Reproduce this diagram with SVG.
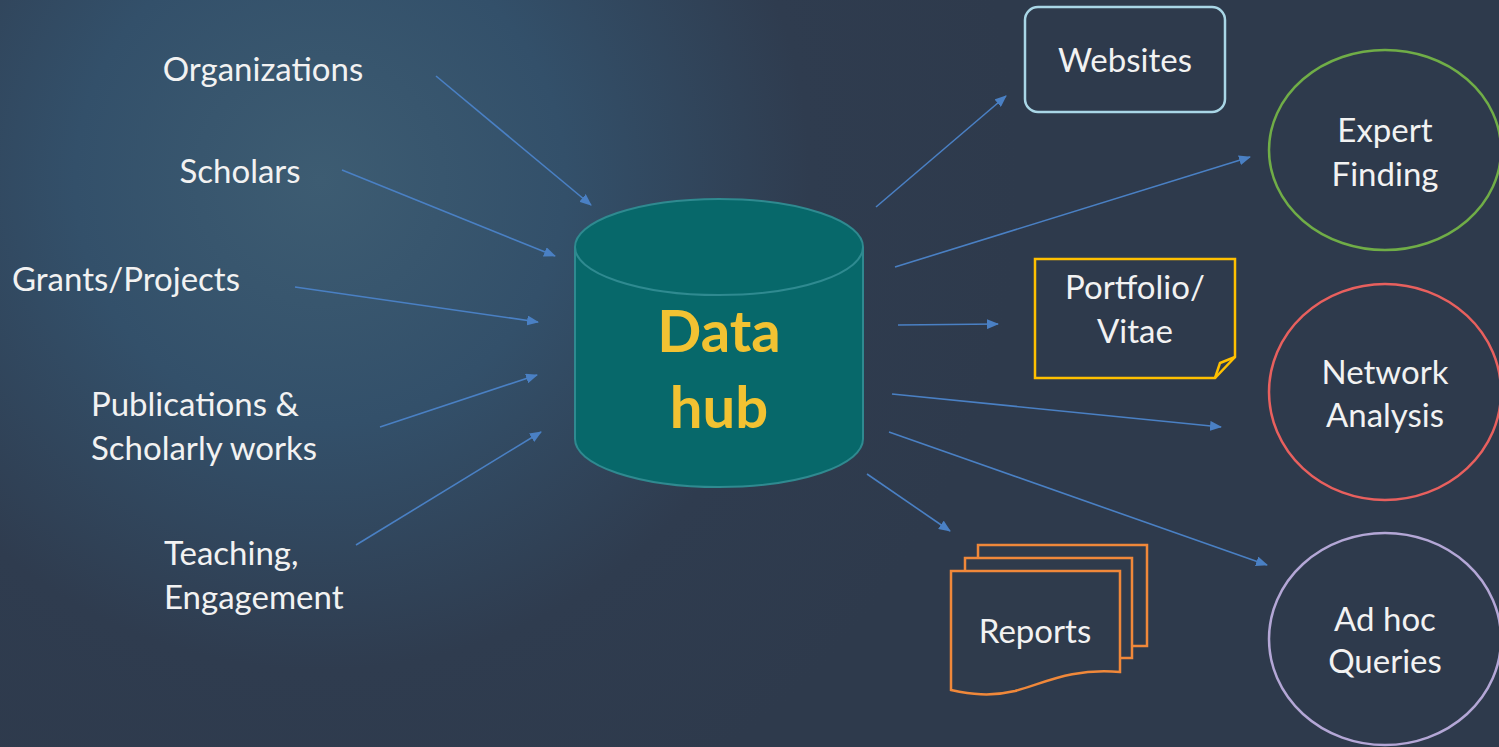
<svg xmlns="http://www.w3.org/2000/svg" width="1499" height="747" viewBox="0 0 1499 747">
<defs>
<radialGradient id="bg" cx="320" cy="180" r="700" gradientUnits="userSpaceOnUse">
<stop offset="0" stop-color="#3d5c72"/>
<stop offset="0.35" stop-color="#33506a"/>
<stop offset="0.7" stop-color="#2f3c4f"/>
<stop offset="1" stop-color="#2e3a4c"/>
</radialGradient>
<marker id="ah" viewBox="0 0 12 10" refX="11" refY="5" markerWidth="12" markerHeight="10" markerUnits="userSpaceOnUse" orient="auto">
<path d="M0,0 L12,5 L0,10 Z" fill="#4a80c4"/>
</marker>
<style>
.lbl{font-family:Lato,"Open Sans",sans-serif;font-size:33px;fill:#f2f2f2}
.c{text-anchor:middle}
.arr{stroke:#4a80c4;stroke-width:1.6;fill:none;marker-end:url(#ah)}
.hub{font-family:Lato,"Open Sans",sans-serif;font-weight:bold;font-size:58px;fill:#f2c232;text-anchor:middle}
</style>
</defs>
<rect width="1499" height="747" fill="url(#bg)"/>

<g id="connectors">
<line class="arr" x1="436" y1="76" x2="591" y2="205"/>
<line class="arr" x1="342" y1="170" x2="555" y2="256"/>
<line class="arr" x1="295" y1="287" x2="538" y2="322"/>
<line class="arr" x1="380" y1="427" x2="537" y2="375"/>
<line class="arr" x1="356" y1="545" x2="541" y2="432"/>
<line class="arr" x1="876" y1="207" x2="1006" y2="96"/>
<line class="arr" x1="895" y1="267" x2="1250" y2="157"/>
<line class="arr" x1="898" y1="325" x2="998" y2="324"/>
<line class="arr" x1="892" y1="394" x2="1221" y2="427"/>
<line class="arr" x1="889" y1="432" x2="1267" y2="565"/>
<line class="arr" x1="867" y1="474" x2="950" y2="531"/>
</g>

<g id="organizations"><text class="lbl c" x="263" y="81">Organizations</text></g>
<g id="scholars"><text class="lbl c" x="240" y="183">Scholars</text></g>
<g id="grants"><text class="lbl" x="12" y="291">Grants/Projects</text></g>
<g id="publications"><text class="lbl" x="91" y="416">Publications &amp;</text><text class="lbl" x="91" y="460">Scholarly works</text></g>
<g id="teaching"><text class="lbl" x="164" y="565">Teaching,</text><text class="lbl" x="164" y="609">Engagement</text></g>

<g id="datahub">
<path d="M575,247 L575,439 A144,48 0 0 0 863,439 L863,247" fill="#07686a" stroke="#2f8a90" stroke-width="2"/>
<ellipse cx="719" cy="247" rx="144" ry="48" fill="#07686a" stroke="#2f8a90" stroke-width="2"/>
<text class="hub" x="719" y="352">Data</text>
<text class="hub" x="719" y="428">hub</text>
</g>

<g id="websites">
<rect x="1025" y="7" width="200" height="105" rx="13" fill="none" stroke="#a9d6e6" stroke-width="2.5"/>
<text class="lbl c" x="1125" y="72">Websites</text>
</g>

<g id="expert">
<ellipse cx="1385" cy="150" rx="116" ry="100" fill="none" stroke="#70ad47" stroke-width="2.5"/>
<text class="lbl c" x="1385" y="142">Expert</text>
<text class="lbl c" x="1385" y="186">Finding</text>
</g>

<g id="portfolio">
<path d="M1035,259 L1235,259 L1235,357 L1215,378 L1035,378 Z" fill="none" stroke="#ffc000" stroke-width="2.5"/>
<path d="M1215,378 L1220,363 L1235,357" fill="none" stroke="#ffc000" stroke-width="2.5"/>
<text class="lbl c" x="1135" y="299">Portfolio/</text>
<text class="lbl c" x="1135" y="343">Vitae</text>
</g>

<g id="network">
<ellipse cx="1385" cy="392" rx="116" ry="108" fill="none" stroke="#e8605e" stroke-width="2.5"/>
<text class="lbl c" x="1385" y="384">Network</text>
<text class="lbl c" x="1385" y="427">Analysis</text>
</g>

<g id="adhoc">
<ellipse cx="1385" cy="639" rx="116" ry="106" fill="none" stroke="#b4a7d6" stroke-width="2.5"/>
<text class="lbl c" x="1385" y="631">Ad hoc</text>
<text class="lbl c" x="1385" y="673">Queries</text>
</g>

<g id="reports" fill="#2f3b4c" stroke="#f0883a" stroke-width="2.5">
<rect x="978" y="545" width="169" height="101"/>
<rect x="965" y="558" width="167" height="100"/>
<path d="M951,571 L1120,571 L1120,672 C1070,668 1045,683 1015,691 C990,697 970,694 951,690 Z"/>
<text class="lbl c" x="1035" y="643" stroke="none">Reports</text>
</g>
</svg>
